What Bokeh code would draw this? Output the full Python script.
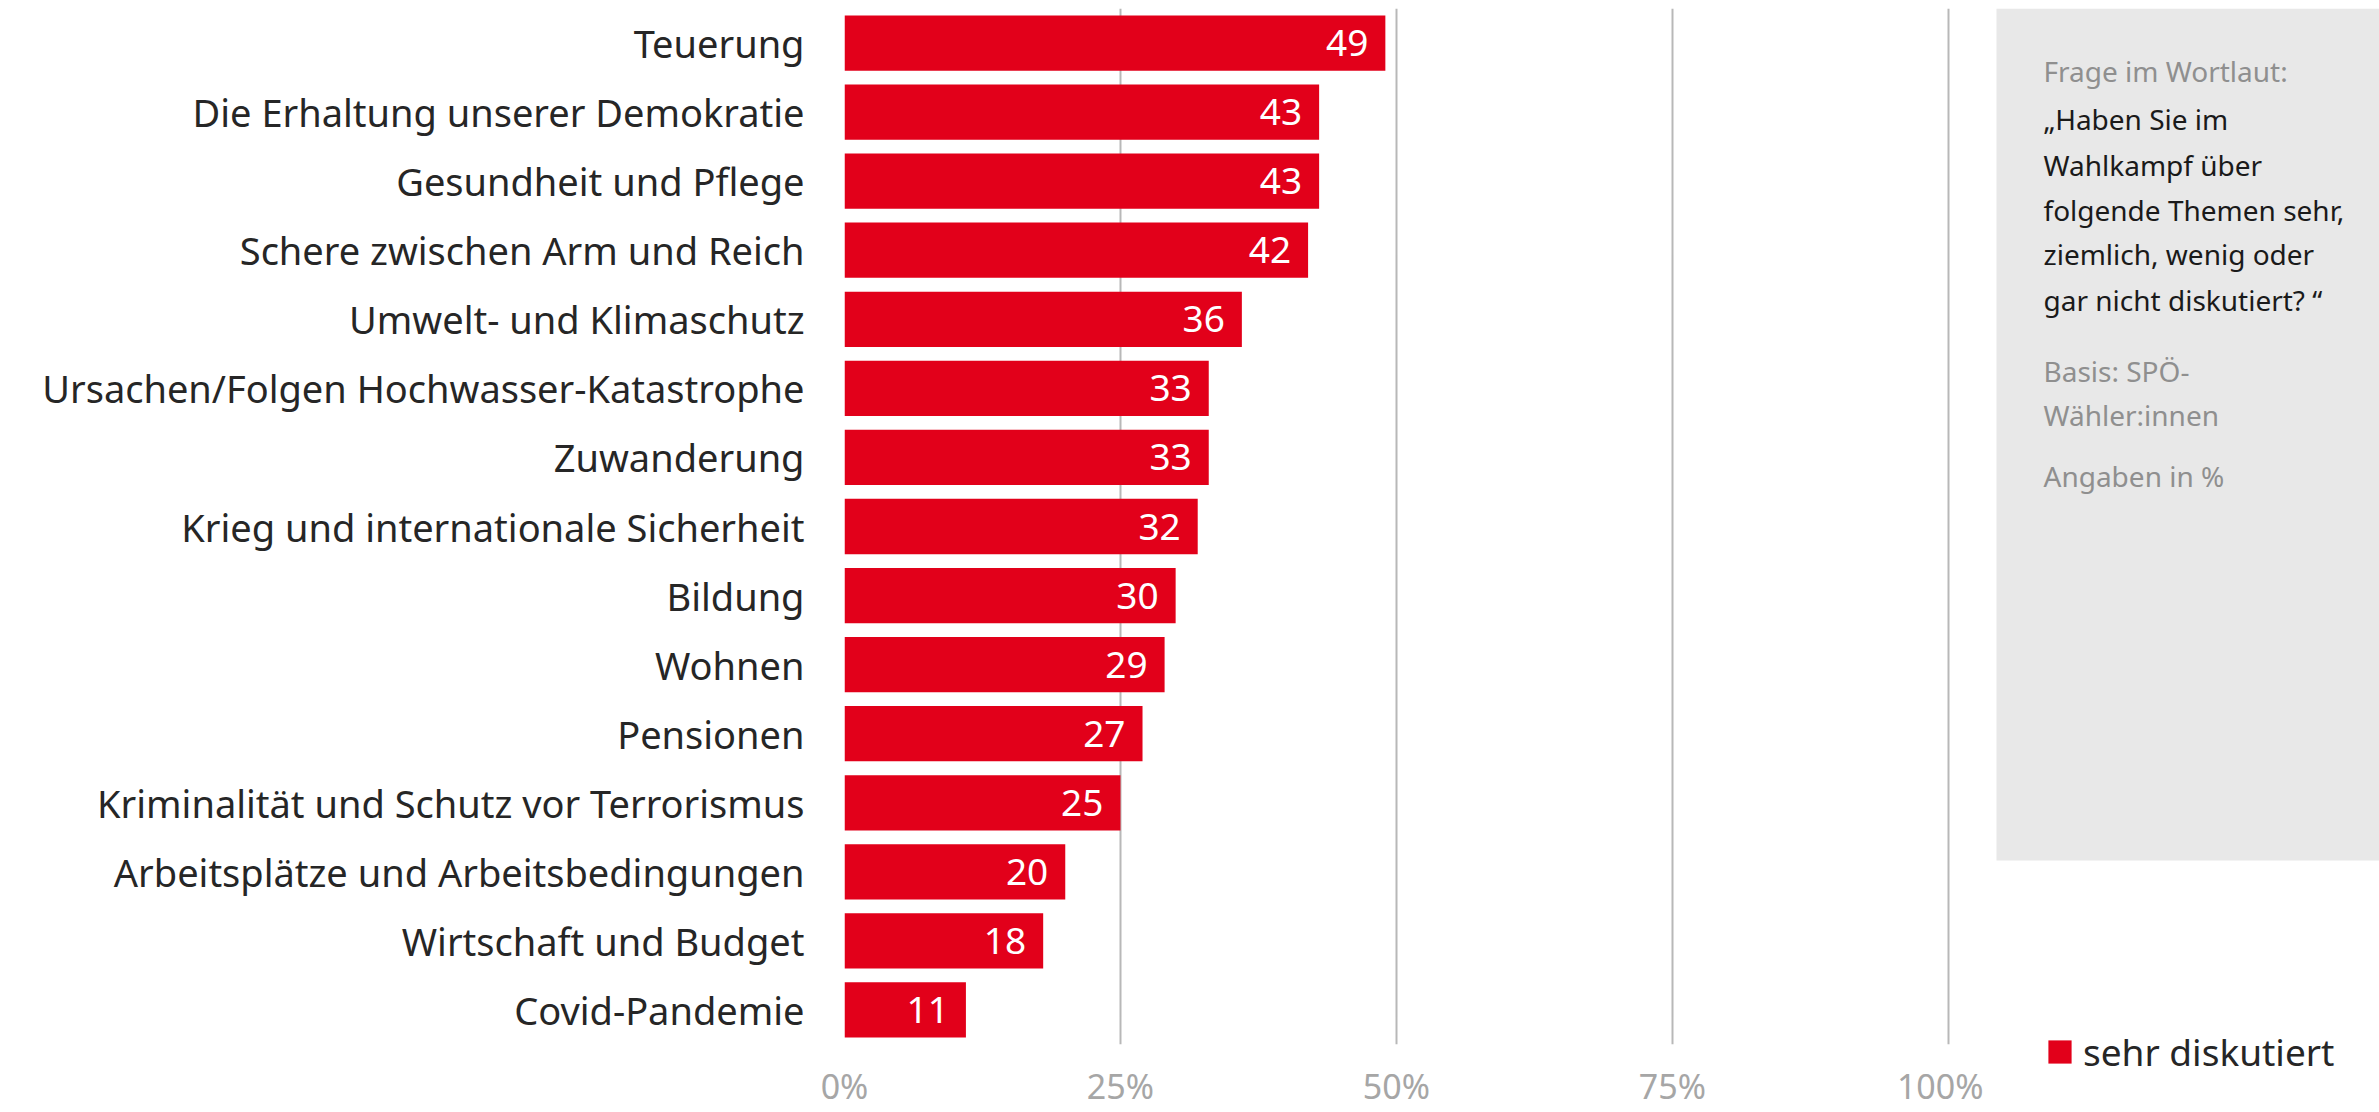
from bokeh.plotting import figure
from bokeh.models import (ColumnDataSource, FactorRange, Range1d, FixedTicker,
                          BoxAnnotation, Label, Legend, LegendItem)
from bokeh.layouts import row, column
from bokeh.embed import file_html
from bokeh.resources import INLINE
from bokeh.core.properties import value

# ---------------- data ----------------
categories = [
    "Teuerung",
    "Die Erhaltung unserer Demokratie",
    "Gesundheit und Pflege",
    "Schere zwischen Arm und Reich",
    "Umwelt- und Klimaschutz",
    "Ursachen/Folgen Hochwasser-Katastrophe",
    "Zuwanderung",
    "Krieg und internationale Sicherheit",
    "Bildung",
    "Wohnen",
    "Pensionen",
    "Kriminalität und Schutz vor Terrorismus",
    "Arbeitsplätze und Arbeitsbedingungen",
    "Wirtschaft und Budget",
    "Covid-Pandemie",
]
values = [49, 43, 43, 42, 36, 33, 33, 32, 30, 29, 27, 25, 20, 18, 11]
tick_values = [0, 25, 50, 75, 100]
tick_labels = ["0%", "25%", "50%", "75%", "100%"]
series_name = "sehr diskutiert"
note_head = "Frage im Wortlaut:"
note_question = ["„Haben Sie im", "Wahlkampf über", "folgende Themen sehr,",
                 "ziemlich, wenig oder", "gar nicht diskutiert? “"]
note_basis = ["Basis: SPÖ-", "Wähler:innen"]
note_unit = "Angaben in %"

RED = "#e2001a"
FONT = "Noto Sans"
DARK = "#262626"
GRAY = "#8f8f8f"

src = ColumnDataSource(dict(cat=categories, val=values,
                            lab=[str(v) for v in values]))

TOP = 8
FRAME_H = 1036
LEFT = 844
FRAME_W = 1106
MAIN_RIGHT_BORDER = 33
MAIN_W = LEFT + FRAME_W + MAIN_RIGHT_BORDER
SIDE_W = 2379 - MAIN_W
SIDE_H = 1096

# ---------------- main chart ----------------
p = figure(frame_width=FRAME_W, frame_height=FRAME_H,
           y_range=FactorRange(factors=categories[::-1], range_padding=0),
           x_range=Range1d(0, 100.2),
           output_backend="svg", toolbar_location=None,
           min_border_left=LEFT, min_border_right=MAIN_RIGHT_BORDER,
           min_border_top=TOP, min_border_bottom=0)
p.outline_line_color = None
p.background_fill_color = "white"

p.hbar(y="cat", right="val", left=0, height=0.8, source=src,
       fill_color=RED, line_color=None)
p.text(x="val", y="cat", text="lab", source=src, x_offset=-17,
       text_align="right", text_baseline="middle", text_color="white",
       text_font=value(FONT), text_font_size="37px")

p.xaxis.ticker = FixedTicker(ticks=tick_values)
p.xaxis.major_label_overrides = {t: l for t, l in zip(tick_values, tick_labels)}
p.xaxis.axis_line_color = None
p.xaxis.major_tick_line_color = None
p.xaxis.minor_tick_line_color = None
p.xaxis.major_label_text_font = FONT
p.xaxis.major_label_text_font_size = "34px"
p.xaxis.major_label_text_color = "#a6a6a6"
p.xaxis.major_label_standoff = 12

p.yaxis.axis_line_color = None
p.yaxis.major_tick_line_color = None
p.yaxis.minor_tick_line_color = None
p.yaxis.major_label_text_font = FONT
p.yaxis.major_label_text_font_size = "38px"
p.yaxis.major_label_text_color = DARK
p.yaxis.major_label_standoff = 34

p.xgrid.ticker = FixedTicker(ticks=tick_values)
p.xgrid.grid_line_color = "#b8b8b8"
p.xgrid.grid_line_width = 2
p.ygrid.grid_line_color = None

# ---------------- side panel (data units = page pixels) ----------------
q = figure(frame_width=SIDE_W, frame_height=SIDE_H,
           x_range=Range1d(MAIN_W, MAIN_W + SIDE_W),
           y_range=Range1d(TOP + SIDE_H, TOP),
           output_backend="svg", toolbar_location=None,
           x_axis_location=None, y_axis_location=None,
           min_border_left=0, min_border_right=0,
           min_border_top=TOP, min_border_bottom=0)
q.outline_line_color = None
q.xgrid.grid_line_color = None
q.ygrid.grid_line_color = None

q.add_layout(BoxAnnotation(left=1996, right=MAIN_W + SIDE_W, top=TOP, bottom=860,
                           fill_color="#e8e8e8", fill_alpha=1, line_color=None))

lines = ([(note_head, GRAY, 70)] +
         [(t, "#1a1a1a", y) for t, y in zip(note_question, [118, 164, 209, 253, 299])] +
         [(t, GRAY, y) for t, y in zip(note_basis, [370, 414])] +
         [(note_unit, GRAY, 475)])
for t, c, y in lines:
    q.add_layout(Label(x=2043, y=y, text=t, text_color=c, text_font=FONT,
                       text_font_size="28px", text_baseline="middle"))

# renderer only used as the legend key (not drawn)
legend_r = q.hbar(y="val", right="val", left=0, height=1, source=src,
                  fill_color=RED, line_color=None, visible=False)
legend = Legend(items=[LegendItem(label=series_name, renderers=[legend_r])],
                location=(2045 - MAIN_W, 27), glyph_width=29, glyph_height=29,
                label_standoff=9, label_text_font=FONT,
                label_text_font_size="37px", label_text_color=DARK,
                padding=0, margin=0, border_line_color=None,
                background_fill_alpha=0, click_policy="none")
q.add_layout(legend)

layout = row(p, column(q, spacing=0), spacing=0)
open("out.html", "w").write(file_html(layout, INLINE))
